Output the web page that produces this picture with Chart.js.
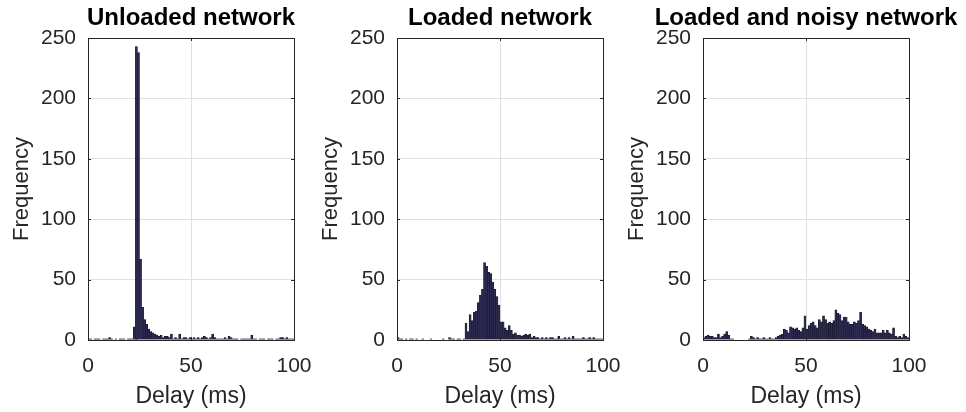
<!DOCTYPE html>
<html>
<head>
<meta charset="utf-8">
<script src="https://cdn.jsdelivr.net/npm/chart.js@4"></script>
<style>
  html, body { margin: 0; padding: 0; background: #fff; }
  #wrap { position: relative; width: 966px; height: 412px; overflow: hidden; }
  canvas { position: absolute; top: 0; }
</style>
</head>
<body>
<div id="wrap">
  <canvas id="c0" width="334" height="412" style="left:0px"></canvas>
  <canvas id="c1" width="334" height="412" style="left:309px"></canvas>
  <canvas id="c2" width="351" height="412" style="left:615px"></canvas>
</div>
<script>
const titles = ["Unloaded network", "Loaded network", "Loaded and noisy network"]
const xTicks = [0, 50, 100]
const yTicks = [0, 50, 100, 150, 200, 250]
const binWidth = 1 // ms, 100 bins from 0 to 100

// counts per 1 ms bin
const unloaded = [
  1, 1, 0, 1, 1, 1, 0, 1, 1, 1,   2, 1, 0, 1, 0, 1, 1, 1, 0, 1,
  1, 1, 11, 243, 238, 67, 27, 17, 13, 9,   7, 6, 5, 4, 3, 4, 2, 3, 3, 2,
  5, 1, 2, 1, 5, 1, 2, 2, 1, 2,   1, 2, 1, 2, 1, 2, 3, 2, 1, 2,
  5, 2, 1, 1, 1, 1, 2, 1, 3, 2,   1, 1, 1, 0, 1, 1, 1, 1, 1, 4,
  1, 1, 0, 1, 1, 1, 0, 1, 1, 1,   0, 1, 1, 2, 2, 1, 2, 1, 1, 1
]
const loaded = [
  2, 1, 1, 0, 1, 0, 1, 1, 0, 1,   0, 0, 1, 0, 0, 0, 1, 0, 0, 0,
  0, 0, 1, 0, 0, 2, 1, 1, 0, 1,   1, 0, 1, 14, 7, 21, 16, 23, 24, 31,
  37, 42, 64, 61, 56, 55, 48, 42, 36, 29,   15, 15, 10, 8, 12, 8, 5, 6, 4, 4,
  3, 4, 5, 4, 5, 2, 3, 2, 2, 1,   2, 1, 2, 1, 2, 2, 1, 1, 3, 1,
  1, 2, 1, 2, 1, 3, 1, 1, 1, 1,   2, 1, 1, 2, 1, 2, 1, 1, 1, 1
]
const noisy = [
  2, 3, 4, 3, 3, 2, 2, 5, 2, 3,   5, 7, 4, 1, 1, 0, 0, 0, 0, 0,
  0, 0, 1, 3, 2, 1, 2, 1, 1, 2,   1, 1, 2, 1, 1, 2, 3, 4, 5, 9,
  8, 6, 11, 10, 9, 10, 8, 7, 10, 20,   9, 12, 14, 15, 12, 10, 17, 15, 20, 17,
  14, 15, 14, 16, 25, 22, 21, 16, 19, 19,   15, 13, 13, 15, 14, 16, 23, 13, 12, 11,
  9, 8, 7, 9, 6, 6, 6, 8, 6, 8,   6, 5, 10, 3, 2, 3, 2, 5, 3, 2
]
const series = [unloaded, loaded, noisy]

const axisColor = "#262626"
const gridColor = "#e0e0e0"
const barFill   = "#2c2a4e"
const barEdge   = "#17162b"
const fontFace  = "'Liberation Sans', Arial, Helvetica, sans-serif"

// MATLAB-style box with inward tick marks, and a title centred on the axes
const boxPlugin = {
  id: "box",
  afterDraw(chart, args, opts) {
    const { ctx, chartArea: a, scales: { x, y } } = chart
    const len = 3
    ctx.save()
    ctx.strokeStyle = axisColor
    ctx.lineWidth = 1
    ctx.beginPath()
    xTicks.forEach(v => {
      const px = Math.round(x.getPixelForValue(v)) + 0.5
      ctx.moveTo(px, a.bottom); ctx.lineTo(px, a.bottom - len)
      ctx.moveTo(px, a.top);    ctx.lineTo(px, a.top + len)
    })
    yTicks.forEach(v => {
      const py = Math.round(y.getPixelForValue(v)) + 0.5
      ctx.moveTo(a.left, py);  ctx.lineTo(a.left + len, py)
      ctx.moveTo(a.right, py); ctx.lineTo(a.right - len, py)
    })
    ctx.stroke()
    ctx.strokeRect(Math.round(a.left) + 0.5, Math.round(a.top) + 0.5,
                   Math.round(a.right - a.left), Math.round(a.bottom - a.top))

    ctx.fillStyle = "#000"
    ctx.font = "bold 24px " + fontFace
    ctx.textAlign = "center"
    ctx.textBaseline = "alphabetic"
    ctx.fillText(opts.text, (a.left + a.right) / 2, 25)
    ctx.restore()
  }
}

series.forEach((values, i) => {
  const rightPad = i === 2 ? 57 : 40
  new Chart(document.getElementById("c" + i), {
    type: "bar",
    data: {
      datasets: [{
        data: values.map((v, k) => ({ x: (k + 0.5) * binWidth, y: v })),
        backgroundColor: barFill,
        borderColor: barEdge,
        borderWidth: 0.6,
        barPercentage: 1,
        categoryPercentage: 1
      }]
    },
    options: {
      responsive: false,
      animation: false,
      layout: { padding: { left: 0, right: rightPad, top: 38, bottom: 0 } },
      plugins: {
        legend: { display: false },
        tooltip: { enabled: false },
        title: { display: false },
        box: { text: titles[i] }
      },
      scales: {
        x: {
          type: "linear",
          min: 0, max: 100,
          offset: false,
          afterBuildTicks: s => { s.ticks = xTicks.map(v => ({ value: v })) },
          afterFit: s => { s.height = 72 },
          grid: { color: gridColor, drawTicks: false, offset: false },
          border: { display: false },
          ticks: {
            color: axisColor, padding: 14, maxRotation: 0, autoSkip: false,
            font: { family: fontFace, size: 21 }
          },
          title: {
            display: true, text: "Delay (ms)", color: axisColor,
            font: { family: fontFace, size: 23 },
            padding: { top: 0, bottom: 1.4 }
          }
        },
        y: {
          min: 0, max: 250,
          afterBuildTicks: s => { s.ticks = yTicks.map(v => ({ value: v })) },
          afterFit: s => { s.width = 88 },
          grid: { color: gridColor, drawTicks: false },
          border: { display: false },
          ticks: {
            color: axisColor, padding: 12,
            font: { family: fontFace, size: 21 }
          },
          title: {
            display: true, text: "Frequency", color: axisColor,
            font: { family: fontFace, size: 22 },
            padding: { top: 8.8, bottom: 0 }
          }
        }
      }
    },
    plugins: [boxPlugin]
  })
})
</script>
</body>
</html>
